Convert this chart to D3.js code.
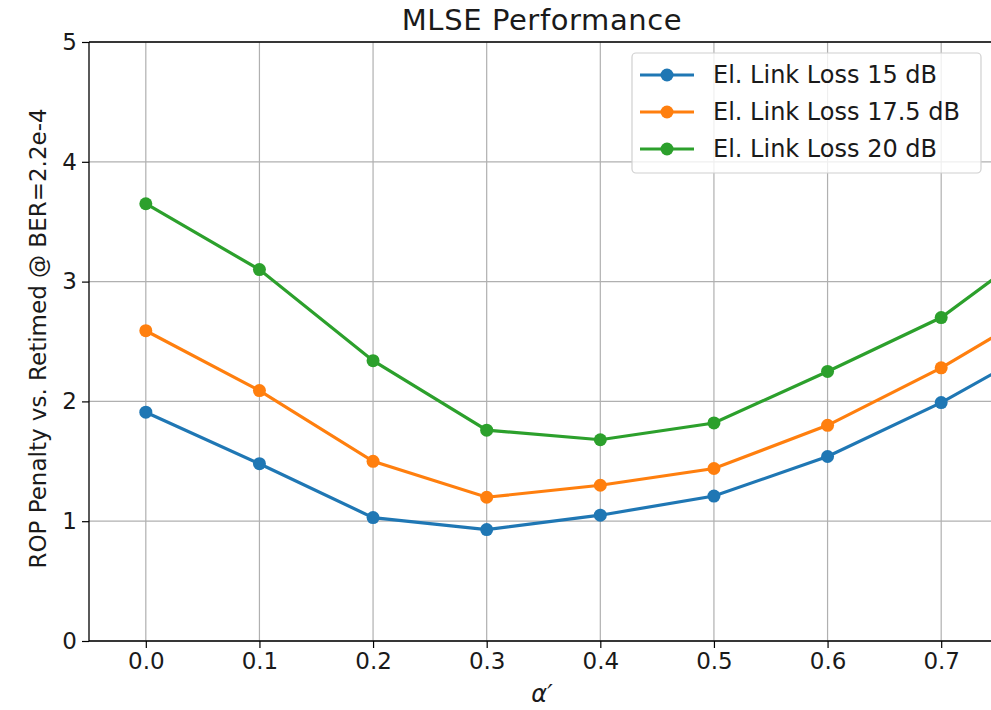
<!doctype html>
<html>
<head>
<style>
  body { margin: 0; background: #fff; }
  text { font-family: "DejaVu Sans", sans-serif; fill: #1a1a1a; }
</style>
<script src="https://d3js.org/d3.v7.min.js"></script>
</head>
<body>
<script>
// data
var alphas = [0.0, 0.1, 0.2, 0.3, 0.4, 0.5, 0.6, 0.7, 0.8];
var loss15 = [1.91, 1.48, 1.03, 0.93, 1.05, 1.21, 1.54, 1.99, 2.52];
var loss175 = [2.59, 2.09, 1.50, 1.20, 1.30, 1.44, 1.80, 2.28, 2.84];
var loss20 = [3.65, 3.10, 2.34, 1.76, 1.68, 1.82, 2.25, 2.70, 3.40];
var seriesNames = ["El. Link Loss 15 dB", "El. Link Loss 17.5 dB", "El. Link Loss 20 dB"];
var colors = ["#1f77b4", "#ff7f0e", "#2ca02c"];
var xTicks = [0.0, 0.1, 0.2, 0.3, 0.4, 0.5, 0.6, 0.7];
var yTicks = [0, 1, 2, 3, 4, 5];

var W = 991, H = 710;
var pLeft = 89, pRight = 998, pTop = 42, pBottom = 641;

var svg = d3.select("body").append("svg")
    .attr("width", W).attr("height", H);

var x = d3.scaleLinear().domain([-0.05, 0.75]).range([pLeft, pRight]);
var y = d3.scaleLinear().domain([0, 5]).range([pBottom, pTop]);

svg.append("defs").append("clipPath").attr("id", "plot")
  .append("rect").attr("x", pLeft).attr("y", pTop)
  .attr("width", pRight - pLeft).attr("height", pBottom - pTop);

// grid
var grid = svg.append("g");
grid.selectAll(".gx").data(xTicks).enter().append("line")
    .attr("x1", d => x(d)).attr("x2", d => x(d))
    .attr("y1", pTop).attr("y2", pBottom)
    .attr("stroke", "#b0b0b0").attr("stroke-width", 1.2);
grid.selectAll(".gy").data(yTicks).enter().append("line")
    .attr("x1", pLeft).attr("x2", pRight)
    .attr("y1", d => y(d)).attr("y2", d => y(d))
    .attr("stroke", "#b0b0b0").attr("stroke-width", 1.2);

// lines
var all = [loss15, loss175, loss20];
var line = d3.line().x((d, i) => x(alphas[i])).y(d => y(d));
var plot = svg.append("g").attr("clip-path", "url(#plot)");
all.forEach(function(vals, k) {
  plot.append("path").datum(vals)
      .attr("d", line)
      .attr("fill", "none")
      .attr("stroke", colors[k])
      .attr("stroke-width", 3.2);
  plot.selectAll(".p" + k).data(vals).enter().append("circle")
      .attr("cx", (d, i) => x(alphas[i]))
      .attr("cy", d => y(d))
      .attr("r", 6.5)
      .attr("fill", colors[k]);
});

// axes
var xAxis = svg.append("g")
    .attr("transform", "translate(0," + pBottom + ")")
    .call(d3.axisBottom(x).tickValues(xTicks).tickFormat(d3.format(".1f")).tickSize(7).tickPadding(5));
var yAxis = svg.append("g")
    .attr("transform", "translate(" + pLeft + ",0)")
    .call(d3.axisLeft(y).tickValues(yTicks).tickFormat(d3.format("d")).tickSize(7).tickPadding(5));
[xAxis, yAxis].forEach(function(a) {
  a.select(".domain").remove();
  a.selectAll("line").attr("stroke", "#000").attr("stroke-width", 1.2);
  a.selectAll("text").attr("font-size", "23px").attr("fill", "#1a1a1a")
    .style("font-family", "DejaVu Sans, sans-serif");
});

// spines
svg.append("line").attr("x1", pLeft).attr("x2", pRight).attr("y1", pTop).attr("y2", pTop)
    .attr("stroke", "#000").attr("stroke-width", 1.3);
svg.append("line").attr("x1", pLeft).attr("x2", pRight).attr("y1", pBottom).attr("y2", pBottom)
    .attr("stroke", "#000").attr("stroke-width", 1.3);
svg.append("line").attr("x1", pLeft).attr("x2", pLeft).attr("y1", pTop).attr("y2", pBottom)
    .attr("stroke", "#000").attr("stroke-width", 1.3);

// title and labels
svg.append("text")
    .attr("x", 542).attr("y", 30)
    .attr("text-anchor", "middle")
    .attr("font-size", "29px")
    .attr("letter-spacing", "0.6px")
    .text("MLSE Performance");

svg.append("text")
    .attr("x", 542).attr("y", 702)
    .attr("text-anchor", "middle")
    .attr("font-size", "24px")
    .attr("font-style", "italic")
    .text("α′");

svg.append("text")
    .attr("transform", "translate(46," + ((pTop + pBottom) / 2 - 3) + ") rotate(-90)")
    .attr("text-anchor", "middle")
    .attr("font-size", "23px")
    .text("ROP Penalty vs. Retimed @ BER=2.2e-4");

// legend
var lg = svg.append("g");
lg.append("rect")
    .attr("x", 632).attr("y", 53).attr("width", 349).attr("height", 120)
    .attr("rx", 4)
    .attr("fill", "#fff").attr("fill-opacity", 0.8)
    .attr("stroke", "#d0d0d0").attr("stroke-width", 1.2);
seriesNames.forEach(function(name, k) {
  var ly = 75 + k * 37;
  lg.append("line").attr("x1", 640).attr("x2", 694).attr("y1", ly).attr("y2", ly)
      .attr("stroke", colors[k]).attr("stroke-width", 3.2);
  lg.append("circle").attr("cx", 667).attr("cy", ly).attr("r", 6.5).attr("fill", colors[k]);
  lg.append("text").attr("x", 713).attr("y", ly + 8)
      .attr("font-size", "24px").text(name);
});
</script>
</body>
</html>
